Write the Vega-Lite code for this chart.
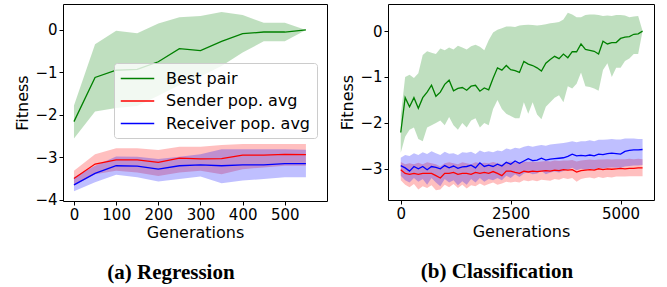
{
  "$schema": "https://vega.github.io/schema/vega-lite/v6.json",
  "background": "white",
  "padding": {"left": 14, "top": 3, "right": 5, "bottom": 0},
  "config": {
    "view": {"stroke": "black", "strokeWidth": 1},
    "font": "DejaVu Sans",
    "axis": {"domain": false, "grid": false, "tickColor": "black", "tickSize": 4, "labelFont": "DejaVu Sans", "labelFontSize": 15, "labelColor": "black", "titleFont": "DejaVu Sans", "titleFontSize": 16, "titleFontWeight": "normal", "titleColor": "black", "labelPadding": 2},
    "axisX": {"titlePadding": 2},
    "axisY": {"titlePadding": 4},
    "title": {"font": "Liberation Serif", "fontSize": 21, "fontWeight": "bold", "color": "black", "orient": "bottom", "frame": "bounds", "anchor": "middle", "offset": 22}
  },
  "spacing": 11,
  "resolve": {"legend": {"stroke": "independent"}},
  "datasets": {
    "reg": [
      {"s": "Best pair", "x": 0, "y": -2.16, "lo": -2.56, "hi": -1.78},
      {"s": "Best pair", "x": 50, "y": -1.12, "lo": -1.92, "hi": -0.34},
      {"s": "Best pair", "x": 100, "y": -0.95, "lo": -1.84, "hi": -0.02},
      {"s": "Best pair", "x": 150, "y": -0.93, "lo": -1.79, "hi": -0.08},
      {"s": "Best pair", "x": 200, "y": -0.75, "lo": -1.55, "hi": 0.15},
      {"s": "Best pair", "x": 250, "y": -0.44, "lo": -1.3, "hi": 0.3},
      {"s": "Best pair", "x": 300, "y": -0.49, "lo": -1.1, "hi": 0.33},
      {"s": "Best pair", "x": 350, "y": -0.27, "lo": -0.85, "hi": 0.42},
      {"s": "Best pair", "x": 400, "y": -0.09, "lo": -0.53, "hi": 0.35},
      {"s": "Best pair", "x": 450, "y": -0.05, "lo": -0.27, "hi": 0.17},
      {"s": "Best pair", "x": 500, "y": -0.05, "lo": -0.27, "hi": 0.17},
      {"s": "Best pair", "x": 550, "y": 0, "lo": 0, "hi": 0},
      {"s": "Sender pop. avg", "x": 0, "y": -3.5, "lo": -3.67, "hi": -3.32},
      {"s": "Sender pop. avg", "x": 50, "y": -3.16, "lo": -3.4, "hi": -2.93},
      {"s": "Sender pop. avg", "x": 100, "y": -3.06, "lo": -3.32, "hi": -2.79},
      {"s": "Sender pop. avg", "x": 150, "y": -3.06, "lo": -3.36, "hi": -2.79},
      {"s": "Sender pop. avg", "x": 200, "y": -3.12, "lo": -3.44, "hi": -2.83},
      {"s": "Sender pop. avg", "x": 250, "y": -3.02, "lo": -3.36, "hi": -2.75},
      {"s": "Sender pop. avg", "x": 300, "y": -3.04, "lo": -3.32, "hi": -2.75},
      {"s": "Sender pop. avg", "x": 350, "y": -3.03, "lo": -3.4, "hi": -2.71},
      {"s": "Sender pop. avg", "x": 400, "y": -2.95, "lo": -3.28, "hi": -2.69},
      {"s": "Sender pop. avg", "x": 450, "y": -2.95, "lo": -3.24, "hi": -2.69},
      {"s": "Sender pop. avg", "x": 500, "y": -2.93, "lo": -3.2, "hi": -2.69},
      {"s": "Sender pop. avg", "x": 550, "y": -2.94, "lo": -3.2, "hi": -2.69},
      {"s": "Receiver pop. avg", "x": 0, "y": -3.65, "lo": -3.8, "hi": -3.47},
      {"s": "Receiver pop. avg", "x": 50, "y": -3.38, "lo": -3.59, "hi": -3.2},
      {"s": "Receiver pop. avg", "x": 100, "y": -3.2, "lo": -3.41, "hi": -2.98},
      {"s": "Receiver pop. avg", "x": 150, "y": -3.21, "lo": -3.47, "hi": -2.99},
      {"s": "Receiver pop. avg", "x": 200, "y": -3.28, "lo": -3.57, "hi": -3.04},
      {"s": "Receiver pop. avg", "x": 250, "y": -3.2, "lo": -3.51, "hi": -2.99},
      {"s": "Receiver pop. avg", "x": 300, "y": -3.18, "lo": -3.45, "hi": -2.93},
      {"s": "Receiver pop. avg", "x": 350, "y": -3.2, "lo": -3.61, "hi": -2.81},
      {"s": "Receiver pop. avg", "x": 400, "y": -3.18, "lo": -3.55, "hi": -2.81},
      {"s": "Receiver pop. avg", "x": 450, "y": -3.18, "lo": -3.51, "hi": -2.81},
      {"s": "Receiver pop. avg", "x": 500, "y": -3.15, "lo": -3.47, "hi": -2.81},
      {"s": "Receiver pop. avg", "x": 550, "y": -3.15, "lo": -3.47, "hi": -2.82}
    ],
    "cls": [
      {"s": "Best pair", "x": 0, "y": -2.21, "lo": -2.65, "hi": -1.85},
      {"s": "Best pair", "x": 100, "y": -1.45, "lo": -2.3, "hi": -1.0},
      {"s": "Best pair", "x": 200, "y": -1.65, "lo": -2.15, "hi": -0.95},
      {"s": "Best pair", "x": 300, "y": -1.45, "lo": -2.1, "hi": -1.02},
      {"s": "Best pair", "x": 400, "y": -1.68, "lo": -2.35, "hi": -0.92},
      {"s": "Best pair", "x": 500, "y": -1.45, "lo": -2.4, "hi": -0.52},
      {"s": "Best pair", "x": 600, "y": -1.33, "lo": -2.1, "hi": -0.44},
      {"s": "Best pair", "x": 700, "y": -1.18, "lo": -2.05, "hi": -0.47},
      {"s": "Best pair", "x": 800, "y": -1.42, "lo": -2.0, "hi": -0.5},
      {"s": "Best pair", "x": 900, "y": -1.33, "lo": -1.95, "hi": -0.38},
      {"s": "Best pair", "x": 1000, "y": -1.16, "lo": -2.05, "hi": -0.42},
      {"s": "Best pair", "x": 1100, "y": -1.07, "lo": -1.87, "hi": -0.36},
      {"s": "Best pair", "x": 1200, "y": -1.3, "lo": -2.05, "hi": -0.4},
      {"s": "Best pair", "x": 1300, "y": -1.25, "lo": -2.15, "hi": -0.32},
      {"s": "Best pair", "x": 1400, "y": -1.23, "lo": -2.0, "hi": -0.36},
      {"s": "Best pair", "x": 1500, "y": -1.29, "lo": -2.1, "hi": -0.4},
      {"s": "Best pair", "x": 1600, "y": -1.2, "lo": -1.95, "hi": -0.33},
      {"s": "Best pair", "x": 1700, "y": -1.18, "lo": -1.9, "hi": -0.3},
      {"s": "Best pair", "x": 1800, "y": -1.31, "lo": -2.1, "hi": -0.34},
      {"s": "Best pair", "x": 1900, "y": -1.24, "lo": -2.0, "hi": -0.42},
      {"s": "Best pair", "x": 2000, "y": -1.28, "lo": -2.05, "hi": -0.2},
      {"s": "Best pair", "x": 2100, "y": -1.03, "lo": -1.7, "hi": -0.03},
      {"s": "Best pair", "x": 2200, "y": -0.8, "lo": -1.5, "hi": 0.03},
      {"s": "Best pair", "x": 2300, "y": -0.85, "lo": -1.7, "hi": 0.06},
      {"s": "Best pair", "x": 2400, "y": -0.75, "lo": -1.8, "hi": 0.1},
      {"s": "Best pair", "x": 2500, "y": -0.84, "lo": -1.85, "hi": 0.1},
      {"s": "Best pair", "x": 2600, "y": -0.86, "lo": -1.9, "hi": 0.09},
      {"s": "Best pair", "x": 2700, "y": -0.9, "lo": -1.9, "hi": 0.12},
      {"s": "Best pair", "x": 2800, "y": -0.66, "lo": -1.55, "hi": 0.13},
      {"s": "Best pair", "x": 2900, "y": -0.72, "lo": -1.8, "hi": 0.14},
      {"s": "Best pair", "x": 3000, "y": -0.75, "lo": -1.55, "hi": 0.13},
      {"s": "Best pair", "x": 3100, "y": -0.8, "lo": -1.82, "hi": 0.12},
      {"s": "Best pair", "x": 3200, "y": -0.87, "lo": -1.92, "hi": 0.13},
      {"s": "Best pair", "x": 3300, "y": -0.7, "lo": -1.65, "hi": 0.15},
      {"s": "Best pair", "x": 3400, "y": -0.62, "lo": -1.55, "hi": 0.17},
      {"s": "Best pair", "x": 3500, "y": -0.55, "lo": -1.45, "hi": 0.18},
      {"s": "Best pair", "x": 3600, "y": -0.6, "lo": -1.4, "hi": 0.2},
      {"s": "Best pair", "x": 3700, "y": -0.5, "lo": -1.55, "hi": 0.25},
      {"s": "Best pair", "x": 3800, "y": -0.58, "lo": -1.2, "hi": 0.4},
      {"s": "Best pair", "x": 3900, "y": -0.45, "lo": -1.25, "hi": 0.36},
      {"s": "Best pair", "x": 4000, "y": -0.45, "lo": -1.15, "hi": 0.3},
      {"s": "Best pair", "x": 4100, "y": -0.28, "lo": -0.9, "hi": 0.3},
      {"s": "Best pair", "x": 4200, "y": -0.4, "lo": -1.2, "hi": 0.35},
      {"s": "Best pair", "x": 4300, "y": -0.42, "lo": -1.22, "hi": 0.36},
      {"s": "Best pair", "x": 4400, "y": -0.44, "lo": -1.25, "hi": 0.36},
      {"s": "Best pair", "x": 4500, "y": -0.5, "lo": -1.3, "hi": 0.35},
      {"s": "Best pair", "x": 4600, "y": -0.22, "lo": -0.85, "hi": 0.33},
      {"s": "Best pair", "x": 4700, "y": -0.28, "lo": -0.7, "hi": 0.34},
      {"s": "Best pair", "x": 4800, "y": -0.25, "lo": -1.0, "hi": 0.33},
      {"s": "Best pair", "x": 4900, "y": -0.25, "lo": -0.8, "hi": 0.35},
      {"s": "Best pair", "x": 5000, "y": -0.16, "lo": -0.8, "hi": 0.35},
      {"s": "Best pair", "x": 5100, "y": -0.13, "lo": -0.65, "hi": 0.34},
      {"s": "Best pair", "x": 5200, "y": -0.12, "lo": -0.6, "hi": 0.3},
      {"s": "Best pair", "x": 5300, "y": -0.07, "lo": -0.5, "hi": 0.32},
      {"s": "Best pair", "x": 5400, "y": -0.06, "lo": -0.5, "hi": 0.33},
      {"s": "Best pair", "x": 5500, "y": 0, "lo": 0, "hi": 0},
      {"s": "Sender pop. avg", "x": 0, "y": -3.02, "lo": -3.25, "hi": -2.85},
      {"s": "Sender pop. avg", "x": 100, "y": -3.1, "lo": -3.35, "hi": -2.9},
      {"s": "Sender pop. avg", "x": 200, "y": -3.12, "lo": -3.4, "hi": -2.88},
      {"s": "Sender pop. avg", "x": 300, "y": -3.1, "lo": -3.33, "hi": -2.9},
      {"s": "Sender pop. avg", "x": 400, "y": -3.12, "lo": -3.45, "hi": -2.87},
      {"s": "Sender pop. avg", "x": 500, "y": -3.1, "lo": -3.38, "hi": -2.9},
      {"s": "Sender pop. avg", "x": 600, "y": -3.1, "lo": -3.42, "hi": -2.86},
      {"s": "Sender pop. avg", "x": 700, "y": -3.1, "lo": -3.36, "hi": -2.88},
      {"s": "Sender pop. avg", "x": 800, "y": -3.15, "lo": -3.47, "hi": -2.9},
      {"s": "Sender pop. avg", "x": 900, "y": -3.2, "lo": -3.45, "hi": -2.95},
      {"s": "Sender pop. avg", "x": 1000, "y": -3.1, "lo": -3.35, "hi": -2.88},
      {"s": "Sender pop. avg", "x": 1100, "y": -3.1, "lo": -3.4, "hi": -2.86},
      {"s": "Sender pop. avg", "x": 1200, "y": -3.08, "lo": -3.33, "hi": -2.88},
      {"s": "Sender pop. avg", "x": 1300, "y": -3.12, "lo": -3.42, "hi": -2.9},
      {"s": "Sender pop. avg", "x": 1400, "y": -3.1, "lo": -3.35, "hi": -2.86},
      {"s": "Sender pop. avg", "x": 1500, "y": -3.1, "lo": -3.43, "hi": -2.88},
      {"s": "Sender pop. avg", "x": 1600, "y": -3.12, "lo": -3.36, "hi": -2.9},
      {"s": "Sender pop. avg", "x": 1700, "y": -3.08, "lo": -3.38, "hi": -2.86},
      {"s": "Sender pop. avg", "x": 1800, "y": -3.1, "lo": -3.32, "hi": -2.88},
      {"s": "Sender pop. avg", "x": 1900, "y": -3.08, "lo": -3.37, "hi": -2.87},
      {"s": "Sender pop. avg", "x": 2000, "y": -3.1, "lo": -3.33, "hi": -2.88},
      {"s": "Sender pop. avg", "x": 2100, "y": -3.06, "lo": -3.3, "hi": -2.85},
      {"s": "Sender pop. avg", "x": 2200, "y": -3.1, "lo": -3.35, "hi": -2.88},
      {"s": "Sender pop. avg", "x": 2300, "y": -3.15, "lo": -3.32, "hi": -2.9},
      {"s": "Sender pop. avg", "x": 2400, "y": -3.05, "lo": -3.28, "hi": -2.85},
      {"s": "Sender pop. avg", "x": 2500, "y": -3.05, "lo": -3.3, "hi": -2.84},
      {"s": "Sender pop. avg", "x": 2600, "y": -3.08, "lo": -3.28, "hi": -2.86},
      {"s": "Sender pop. avg", "x": 2700, "y": -3.1, "lo": -3.3, "hi": -2.87},
      {"s": "Sender pop. avg", "x": 2800, "y": -3.05, "lo": -3.25, "hi": -2.84},
      {"s": "Sender pop. avg", "x": 2900, "y": -3.07, "lo": -3.27, "hi": -2.85},
      {"s": "Sender pop. avg", "x": 3000, "y": -3.05, "lo": -3.25, "hi": -2.84},
      {"s": "Sender pop. avg", "x": 3100, "y": -3.06, "lo": -3.27, "hi": -2.85},
      {"s": "Sender pop. avg", "x": 3200, "y": -3.05, "lo": -3.24, "hi": -2.84},
      {"s": "Sender pop. avg", "x": 3300, "y": -3.04, "lo": -3.25, "hi": -2.83},
      {"s": "Sender pop. avg", "x": 3400, "y": -3.05, "lo": -3.26, "hi": -2.84},
      {"s": "Sender pop. avg", "x": 3500, "y": -3.03, "lo": -3.22, "hi": -2.82},
      {"s": "Sender pop. avg", "x": 3600, "y": -3.04, "lo": -3.24, "hi": -2.83},
      {"s": "Sender pop. avg", "x": 3700, "y": -3.02, "lo": -3.2, "hi": -2.82},
      {"s": "Sender pop. avg", "x": 3800, "y": -3.03, "lo": -3.22, "hi": -2.82},
      {"s": "Sender pop. avg", "x": 3900, "y": -3.02, "lo": -3.2, "hi": -2.81},
      {"s": "Sender pop. avg", "x": 4000, "y": -3.07, "lo": -3.28, "hi": -2.84},
      {"s": "Sender pop. avg", "x": 4100, "y": -3.04, "lo": -3.22, "hi": -2.82},
      {"s": "Sender pop. avg", "x": 4200, "y": -3.03, "lo": -3.2, "hi": -2.81},
      {"s": "Sender pop. avg", "x": 4300, "y": -3.02, "lo": -3.19, "hi": -2.8},
      {"s": "Sender pop. avg", "x": 4400, "y": -3.03, "lo": -3.21, "hi": -2.81},
      {"s": "Sender pop. avg", "x": 4500, "y": -3.0, "lo": -3.18, "hi": -2.8},
      {"s": "Sender pop. avg", "x": 4600, "y": -3.02, "lo": -3.2, "hi": -2.8},
      {"s": "Sender pop. avg", "x": 4700, "y": -3.0, "lo": -3.18, "hi": -2.79},
      {"s": "Sender pop. avg", "x": 4800, "y": -3.01, "lo": -3.19, "hi": -2.8},
      {"s": "Sender pop. avg", "x": 4900, "y": -3.0, "lo": -3.17, "hi": -2.79},
      {"s": "Sender pop. avg", "x": 5000, "y": -2.99, "lo": -3.17, "hi": -2.79},
      {"s": "Sender pop. avg", "x": 5100, "y": -3.0, "lo": -3.17, "hi": -2.79},
      {"s": "Sender pop. avg", "x": 5200, "y": -2.99, "lo": -3.16, "hi": -2.78},
      {"s": "Sender pop. avg", "x": 5300, "y": -2.99, "lo": -3.16, "hi": -2.79},
      {"s": "Sender pop. avg", "x": 5400, "y": -2.98, "lo": -3.16, "hi": -2.78},
      {"s": "Sender pop. avg", "x": 5500, "y": -2.98, "lo": -3.16, "hi": -2.79},
      {"s": "Receiver pop. avg", "x": 0, "y": -2.93, "lo": -3.15, "hi": -2.76},
      {"s": "Receiver pop. avg", "x": 100, "y": -2.98, "lo": -3.25, "hi": -2.7},
      {"s": "Receiver pop. avg", "x": 200, "y": -3.05, "lo": -3.3, "hi": -2.72},
      {"s": "Receiver pop. avg", "x": 300, "y": -2.95, "lo": -3.2, "hi": -2.66},
      {"s": "Receiver pop. avg", "x": 400, "y": -3.0, "lo": -3.28, "hi": -2.7},
      {"s": "Receiver pop. avg", "x": 500, "y": -2.95, "lo": -3.22, "hi": -2.64},
      {"s": "Receiver pop. avg", "x": 600, "y": -3.02, "lo": -3.35, "hi": -2.68},
      {"s": "Receiver pop. avg", "x": 700, "y": -2.95, "lo": -3.2, "hi": -2.62},
      {"s": "Receiver pop. avg", "x": 800, "y": -2.97, "lo": -3.3, "hi": -2.66},
      {"s": "Receiver pop. avg", "x": 900, "y": -3.0, "lo": -3.38, "hi": -2.7},
      {"s": "Receiver pop. avg", "x": 1000, "y": -2.93, "lo": -3.22, "hi": -2.63},
      {"s": "Receiver pop. avg", "x": 1100, "y": -2.98, "lo": -3.3, "hi": -2.67},
      {"s": "Receiver pop. avg", "x": 1200, "y": -2.94, "lo": -3.25, "hi": -2.66},
      {"s": "Receiver pop. avg", "x": 1300, "y": -2.99, "lo": -3.36, "hi": -2.7},
      {"s": "Receiver pop. avg", "x": 1400, "y": -2.96, "lo": -3.27, "hi": -2.64},
      {"s": "Receiver pop. avg", "x": 1500, "y": -2.95, "lo": -3.35, "hi": -2.65},
      {"s": "Receiver pop. avg", "x": 1600, "y": -2.92, "lo": -3.22, "hi": -2.63},
      {"s": "Receiver pop. avg", "x": 1700, "y": -2.98, "lo": -3.3, "hi": -2.68},
      {"s": "Receiver pop. avg", "x": 1800, "y": -2.87, "lo": -3.2, "hi": -2.6},
      {"s": "Receiver pop. avg", "x": 1900, "y": -2.95, "lo": -3.28, "hi": -2.64},
      {"s": "Receiver pop. avg", "x": 2000, "y": -2.92, "lo": -3.22, "hi": -2.62},
      {"s": "Receiver pop. avg", "x": 2100, "y": -2.95, "lo": -3.25, "hi": -2.64},
      {"s": "Receiver pop. avg", "x": 2200, "y": -2.9, "lo": -3.2, "hi": -2.6},
      {"s": "Receiver pop. avg", "x": 2300, "y": -2.94, "lo": -3.25, "hi": -2.62},
      {"s": "Receiver pop. avg", "x": 2400, "y": -2.86, "lo": -3.15, "hi": -2.56},
      {"s": "Receiver pop. avg", "x": 2500, "y": -2.9, "lo": -3.2, "hi": -2.58},
      {"s": "Receiver pop. avg", "x": 2600, "y": -2.83, "lo": -3.12, "hi": -2.54},
      {"s": "Receiver pop. avg", "x": 2700, "y": -2.88, "lo": -3.18, "hi": -2.56},
      {"s": "Receiver pop. avg", "x": 2800, "y": -2.83, "lo": -3.1, "hi": -2.52},
      {"s": "Receiver pop. avg", "x": 2900, "y": -2.78, "lo": -3.08, "hi": -2.5},
      {"s": "Receiver pop. avg", "x": 3000, "y": -2.82, "lo": -3.12, "hi": -2.52},
      {"s": "Receiver pop. avg", "x": 3100, "y": -2.81, "lo": -3.1, "hi": -2.5},
      {"s": "Receiver pop. avg", "x": 3200, "y": -2.77, "lo": -3.05, "hi": -2.48},
      {"s": "Receiver pop. avg", "x": 3300, "y": -2.81, "lo": -3.12, "hi": -2.5},
      {"s": "Receiver pop. avg", "x": 3400, "y": -2.79, "lo": -3.08, "hi": -2.47},
      {"s": "Receiver pop. avg", "x": 3500, "y": -2.78, "lo": -3.06, "hi": -2.46},
      {"s": "Receiver pop. avg", "x": 3600, "y": -2.77, "lo": -3.08, "hi": -2.45},
      {"s": "Receiver pop. avg", "x": 3700, "y": -2.76, "lo": -3.05, "hi": -2.44},
      {"s": "Receiver pop. avg", "x": 3800, "y": -2.73, "lo": -3.02, "hi": -2.42},
      {"s": "Receiver pop. avg", "x": 3900, "y": -2.68, "lo": -2.98, "hi": -2.4},
      {"s": "Receiver pop. avg", "x": 4000, "y": -2.72, "lo": -3.03, "hi": -2.42},
      {"s": "Receiver pop. avg", "x": 4100, "y": -2.71, "lo": -3.0, "hi": -2.4},
      {"s": "Receiver pop. avg", "x": 4200, "y": -2.72, "lo": -3.02, "hi": -2.4},
      {"s": "Receiver pop. avg", "x": 4300, "y": -2.7, "lo": -3.0, "hi": -2.38},
      {"s": "Receiver pop. avg", "x": 4400, "y": -2.72, "lo": -3.02, "hi": -2.4},
      {"s": "Receiver pop. avg", "x": 4500, "y": -2.68, "lo": -2.98, "hi": -2.37},
      {"s": "Receiver pop. avg", "x": 4600, "y": -2.69, "lo": -3.0, "hi": -2.37},
      {"s": "Receiver pop. avg", "x": 4700, "y": -2.67, "lo": -2.98, "hi": -2.36},
      {"s": "Receiver pop. avg", "x": 4800, "y": -2.66, "lo": -2.97, "hi": -2.35},
      {"s": "Receiver pop. avg", "x": 4900, "y": -2.67, "lo": -2.98, "hi": -2.36},
      {"s": "Receiver pop. avg", "x": 5000, "y": -2.68, "lo": -2.98, "hi": -2.36},
      {"s": "Receiver pop. avg", "x": 5100, "y": -2.62, "lo": -2.95, "hi": -2.34},
      {"s": "Receiver pop. avg", "x": 5200, "y": -2.6, "lo": -2.94, "hi": -2.34},
      {"s": "Receiver pop. avg", "x": 5300, "y": -2.59, "lo": -2.93, "hi": -2.34},
      {"s": "Receiver pop. avg", "x": 5400, "y": -2.59, "lo": -2.93, "hi": -2.35},
      {"s": "Receiver pop. avg", "x": 5500, "y": -2.58, "lo": -2.92, "hi": -2.35}
    ]
  },
  "hconcat": [
    {
      "width": 264,
      "height": 197,
      "title": {"text": "(a) Regression"},
      "data": {"name": "reg"},
      "layer": [
        {
          "mark": {"type": "area", "fillOpacity": 0.25, "strokeWidth": 0},
          "encoding": {
            "x": {"field": "x", "type": "quantitative", "scale": {"domain": [-26, 600], "nice": false, "zero": false}, "axis": {"values": [0, 100, 200, 300, 400, 500], "format": "d", "title": "Generations"}},
            "y": {"field": "lo", "type": "quantitative", "stack": null, "scale": {"domain": [-4.03, 0.61], "nice": false, "zero": false}, "axis": {"values": [-4, -3, -2, -1, 0], "format": "d", "title": "Fitness"}},
            "y2": {"field": "hi"},
            "fill": {"field": "s", "type": "nominal", "scale": {"domain": ["Best pair", "Sender pop. avg", "Receiver pop. avg"], "range": ["green", "red", "blue"]}, "legend": null}
          }
        },
        {
          "mark": {"type": "line", "strokeWidth": 1.3},
          "encoding": {
            "x": {"field": "x", "type": "quantitative"},
            "y": {"field": "y", "type": "quantitative"},
            "stroke": {
              "field": "s", "type": "nominal",
              "scale": {"domain": ["Best pair", "Sender pop. avg", "Receiver pop. avg"], "range": ["green", "red", "blue"]},
              "legend": {"title": null, "orient": "none", "legendX": 51, "legendY": 59, "symbolType": "M-2,0H2", "symbolSize": 280, "symbolStrokeWidth": 1.5, "symbolOffset": 8, "labelFont": "DejaVu Sans", "labelFontSize": 16, "labelColor": "black", "fillColor": "rgba(255,255,255,0.8)", "strokeColor": "#cccccc", "cornerRadius": 3, "padding": 6, "rowPadding": 4.5, "labelOffset": 19}
            }
          }
        }
      ]
    },
    {
      "width": 266,
      "height": 196,
      "title": {"text": "(b) Classification"},
      "data": {"name": "cls"},
      "layer": [
        {
          "mark": {"type": "area", "fillOpacity": 0.25, "strokeWidth": 0},
          "encoding": {
            "x": {"field": "x", "type": "quantitative", "scale": {"domain": [-290, 5760], "nice": false, "zero": false}, "axis": {"values": [0, 2500, 5000], "format": "d", "title": "Generations"}},
            "y": {"field": "lo", "type": "quantitative", "stack": null, "scale": {"domain": [-3.68, 0.59], "nice": false, "zero": false}, "axis": {"values": [-3, -2, -1, 0], "format": "d", "title": "Fitness"}},
            "y2": {"field": "hi"},
            "fill": {"field": "s", "type": "nominal", "scale": {"domain": ["Best pair", "Sender pop. avg", "Receiver pop. avg"], "range": ["green", "red", "blue"]}, "legend": null}
          }
        },
        {
          "mark": {"type": "line", "strokeWidth": 1.3},
          "encoding": {
            "x": {"field": "x", "type": "quantitative"},
            "y": {"field": "y", "type": "quantitative"},
            "stroke": {"field": "s", "type": "nominal", "scale": {"domain": ["Best pair", "Sender pop. avg", "Receiver pop. avg"], "range": ["green", "red", "blue"]}, "legend": null}
          }
        }
      ]
    }
  ]
}
